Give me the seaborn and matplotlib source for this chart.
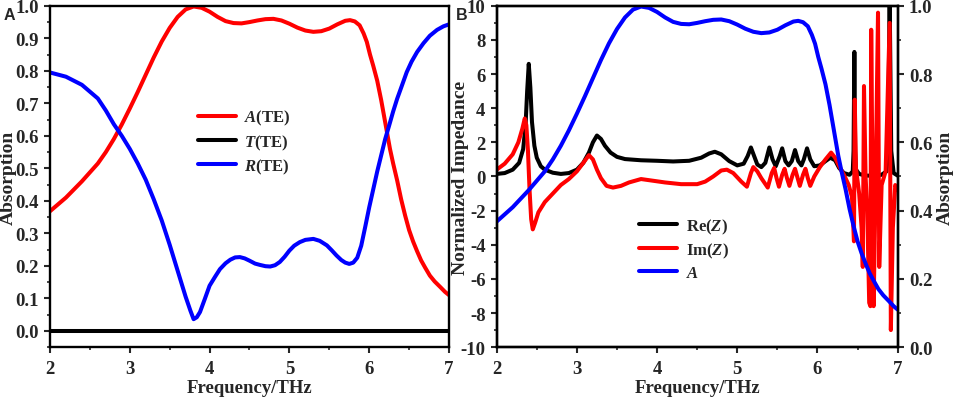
import numpy as np
import pandas as pd
import seaborn as sns
import matplotlib.pyplot as plt
from matplotlib.ticker import MultipleLocator

# panel A data: absorption / transmission / reflection (TE)
freq_a = [2.0, 2.2, 2.4, 2.6, 2.7, 2.8, 2.9, 3.0, 3.1, 3.2, 3.3, 3.4, 3.5, 3.6, 3.7, 3.8, 3.9,
          4.0, 4.1, 4.2, 4.3, 4.4, 4.5, 4.6, 4.7, 4.8, 4.9, 5.0, 5.1, 5.2, 5.3, 5.4, 5.5, 5.6,
          5.7, 5.76, 5.82, 5.88, 5.93, 5.97, 6.01, 6.05, 6.1, 6.15, 6.2, 6.26, 6.3, 6.35, 6.4,
          6.45, 6.5, 6.55, 6.6, 6.65, 6.7, 6.76, 6.82, 6.89, 6.95, 7.0]
a_te = [0.368, 0.41, 0.46, 0.515, 0.55, 0.59, 0.635, 0.684, 0.735, 0.788, 0.841, 0.89, 0.932, 0.966, 0.989, 0.998, 0.994,
        0.982, 0.966, 0.953, 0.947, 0.946, 0.95, 0.955, 0.959, 0.96, 0.955, 0.945, 0.933, 0.924, 0.92, 0.922, 0.93, 0.943,
        0.954, 0.956, 0.952, 0.94, 0.915, 0.889, 0.85, 0.816, 0.77, 0.71, 0.642, 0.56, 0.515, 0.463, 0.405,
        0.355, 0.31, 0.275, 0.245, 0.217, 0.195, 0.17, 0.152, 0.135, 0.12, 0.11]

freq_t = [2.0, 7.0]
t_te = [0.0, 0.0]

freq_r = [2.0, 2.2, 2.4, 2.6, 2.7, 2.8, 2.9, 3.0, 3.1, 3.2, 3.3, 3.4, 3.5, 3.6, 3.7, 3.76, 3.8, 3.84, 3.88,
          3.94, 4.0, 4.07, 4.13, 4.2, 4.26, 4.32, 4.38, 4.44, 4.5, 4.57, 4.63, 4.7, 4.76, 4.82, 4.88,
          4.94, 5.0, 5.06, 5.13, 5.2, 5.3, 5.38, 5.47, 5.53, 5.59, 5.65, 5.7, 5.75, 5.8, 5.85, 5.9,
          5.95, 6.0, 6.05, 6.1, 6.15, 6.2, 6.25, 6.3, 6.35, 6.4, 6.47, 6.53, 6.6, 6.68, 6.76, 6.85, 6.93, 7.0]
r_te = [0.795, 0.782, 0.757, 0.715, 0.678, 0.636, 0.6, 0.56, 0.515, 0.465, 0.405, 0.34, 0.265, 0.185, 0.105, 0.062, 0.036, 0.042, 0.058,
        0.098, 0.139, 0.167, 0.19, 0.208, 0.219, 0.226, 0.227, 0.223, 0.216, 0.207, 0.203, 0.199, 0.198, 0.202, 0.212,
        0.228, 0.247, 0.262, 0.273, 0.28, 0.283, 0.277, 0.263, 0.248, 0.232, 0.218, 0.21, 0.206, 0.21, 0.225, 0.262,
        0.32, 0.38, 0.435, 0.49, 0.54, 0.59, 0.632, 0.675, 0.714, 0.748, 0.796, 0.828, 0.858, 0.885, 0.908, 0.926, 0.937, 0.943]

# panel B data: normalized impedance
freq_re = [2.0, 2.1, 2.2, 2.28, 2.33, 2.36, 2.38, 2.4, 2.42, 2.44, 2.47, 2.5, 2.55, 2.6, 2.7, 2.8, 2.9,
           3.0, 3.08, 3.15, 3.2, 3.25, 3.3, 3.35, 3.42, 3.5, 3.6, 3.8, 4.0, 4.2, 4.4, 4.55, 4.65, 4.72,
           4.8, 4.9, 5.0, 5.08, 5.13, 5.17, 5.21, 5.25, 5.3, 5.35, 5.4, 5.44, 5.48, 5.53, 5.56, 5.6,
           5.64, 5.68, 5.72, 5.76, 5.8, 5.83, 5.87, 5.91, 5.96, 6.03, 6.1, 6.16, 6.22, 6.27, 6.33, 6.4,
           6.44, 6.45, 6.46, 6.47, 6.48, 6.52, 6.6, 6.7, 6.8, 6.86, 6.88, 6.9, 6.92, 6.95, 7.0]
re_z = [0.15, 0.2, 0.4, 0.8, 1.6, 3.0, 5.0, 6.6, 5.2, 3.2, 1.8, 1.1, 0.6, 0.4, 0.22, 0.15, 0.2,
        0.4, 0.8, 1.4, 2.0, 2.4, 2.2, 1.8, 1.4, 1.15, 1.02, 0.95, 0.92, 0.88, 0.92, 1.1, 1.35, 1.45,
        1.3, 0.9, 0.65, 0.75, 1.2, 1.7, 1.2, 0.7, 0.55, 0.8, 1.7, 1.0, 0.6, 1.2, 1.65, 0.9,
        0.65, 0.9, 1.55, 0.9, 0.65, 1.0, 1.65, 1.0, 0.6, 0.65, 0.9, 1.1, 0.95, 0.5, 0.2, 0.1,
        0.3, 1.5, 7.3, 1.5, 0.4, 0.15, 0.05, 0.05, 0.1, 0.3, 1.5, 10.5, 1.5, 0.2, 0.05]

freq_im = [2.0, 2.1, 2.2, 2.27, 2.32, 2.35, 2.37, 2.39, 2.41, 2.43, 2.45, 2.48, 2.52, 2.6, 2.7, 2.8,
           2.9, 3.0, 3.08, 3.15, 3.2, 3.25, 3.3, 3.37, 3.45, 3.55, 3.65, 3.8, 3.95, 4.1, 4.3, 4.5,
           4.6, 4.7, 4.8, 4.87, 4.95, 5.05, 5.12, 5.17, 5.2, 5.25, 5.3, 5.38, 5.43, 5.46, 5.49, 5.52,
           5.56, 5.59, 5.62, 5.65, 5.69, 5.72, 5.75, 5.78, 5.82, 5.85, 5.88, 5.91, 5.96, 6.03, 6.1,
           6.17, 6.22, 6.27, 6.33, 6.39, 6.43, 6.455, 6.465, 6.48, 6.52, 6.55, 6.565, 6.58, 6.6, 6.62,
           6.645, 6.66, 6.67, 6.685, 6.7, 6.72, 6.755, 6.77, 6.8, 6.85, 6.9, 6.915, 6.94, 6.97, 7.0]
im_z = [0.4, 0.75, 1.3, 2.0, 2.8, 3.4, 3.0, 1.5, -0.8, -2.5, -3.1, -2.7, -2.1, -1.5, -1.0, -0.5,
        -0.15, 0.3, 0.8, 1.25, 1.0, 0.4, -0.1, -0.55, -0.65, -0.55, -0.35, -0.15, -0.25, -0.35, -0.45, -0.45,
        -0.3, 0.0, 0.35, 0.4, 0.2, -0.3, -0.6, 0.2, 0.55, 0.3, -0.1, -0.65, 0.2, 0.5, -0.1, -0.6,
        0.1, 0.45, -0.1, -0.55, 0.1, 0.45, -0.05, -0.55, 0.1, 0.45, -0.1, -0.55, 0.0, 0.55, 1.0,
        1.4, 1.1, 0.6, 0.1, -0.5, -1.2, -3.8, 4.5, 0.5, -1.0, -3.0, -5.3, 5.3, 0.0, -2.0,
        -7.4, -7.6, 8.6, 0.5, -7.6, -2.0, 9.6, -5.3, -0.5, 0.3, 9.0, -9.0, -3.0, -0.5, -0.8]

sns.set_style("ticks")
plt.rcParams['font.family'] = ['Liberation Serif', 'DejaVu Serif']
plt.rcParams['font.weight'] = 'bold'
plt.rcParams['axes.labelweight'] = 'bold'
plt.rcParams['axes.unicode_minus'] = False
plt.rcParams['mathtext.fontset'] = 'custom'
plt.rcParams['mathtext.it'] = 'Liberation Serif:italic:bold'
plt.rcParams['mathtext.rm'] = 'Liberation Serif:bold'

fig = plt.figure(figsize=(9.57, 4.02), dpi=100)
ax1 = fig.add_axes([0.0522, 0.134, 0.417, 0.849])
ax2 = fig.add_axes([0.519, 0.134, 0.419, 0.849])
ax3 = ax2.twinx()

lw = 2.9

def style(ax):
    for s in ax.spines.values():
        s.set_linewidth(1.7)
        s.set_color('black')
    ax.tick_params(which='major', direction='out', length=4.5, width=1.5, labelsize=13.5)
    ax.tick_params(axis='x', which='major', pad=5)
    ax.tick_params(axis='y', which='major', pad=3.5)
    ax.tick_params(which='minor', direction='out', length=2.5, width=1.2)
    for lab in ax.get_xticklabels() + ax.get_yticklabels():
        lab.set_fontweight('bold')

# ---- panel A
sns.lineplot(x=freq_a, y=a_te, ax=ax1, color='#ff0000', lw=lw, label=r'$\mathit{A}$(TE)')
sns.lineplot(x=freq_t, y=t_te, ax=ax1, color='black', lw=lw, label=r'$\mathit{T}$(TE)')
sns.lineplot(x=freq_r, y=r_te, ax=ax1, color='#0000ff', lw=lw, label=r'$\mathit{R}$(TE)')
ax1.set_xlim(2, 7)
ax1.set_ylim(-0.05, 1.0)
ax1.set_yticks(np.arange(0, 1.01, 0.1))
ax1.set_yticklabels(['%.1f' % v for v in np.arange(0, 1.01, 0.1)])
ax1.yaxis.set_minor_locator(MultipleLocator(0.05))
ax1.xaxis.set_minor_locator(MultipleLocator(0.5))
ax1.set_xlabel('Frequency/THz', fontsize=13.5, labelpad=1)
ax1.set_ylabel('Absorption', fontsize=14)
ax1.yaxis.set_label_coords(-0.083, 0.5)
style(ax1)
ax1.legend(loc='upper left', bbox_to_anchor=(0.37, 0.70), frameon=False, fontsize=12,
           handlelength=2.3, handletextpad=0.5, labelspacing=0.3, borderpad=0, borderaxespad=0)

# ---- panel B
sns.lineplot(x=freq_re, y=re_z, ax=ax2, color='black', lw=lw, label=r'Re($\mathit{Z}$)', legend=False)
sns.lineplot(x=freq_im, y=im_z, ax=ax2, color='#ff0000', lw=lw, label=r'Im($\mathit{Z}$)', legend=False)
sns.lineplot(x=freq_a, y=a_te, ax=ax3, color='#0000ff', lw=lw, label=r'$\mathit{A}$', legend=False)
ax2.set_xlim(2, 7)
ax2.set_ylim(-10, 10)
ax2.set_yticks(range(-10, 11, 2))
ax2.yaxis.set_minor_locator(MultipleLocator(1))
ax2.xaxis.set_minor_locator(MultipleLocator(0.5))
ax3.set_ylim(0, 1.0)
ax3.set_yticks(np.arange(0, 1.01, 0.2))
ax3.set_yticklabels(['%.1f' % v for v in np.arange(0, 1.01, 0.2)])
ax3.yaxis.set_minor_locator(MultipleLocator(0.1))
ax2.set_xlabel('Frequency/THz', fontsize=13.5, labelpad=1)
ax2.set_ylabel('Normalized Impedance', fontsize=14)
ax2.yaxis.set_label_coords(-0.068, 0.5)
ax3.set_ylabel('Absorption', fontsize=14)
ax3.yaxis.set_label_coords(1.097, 0.5)
style(ax2)
style(ax3)
h2, l2 = ax2.get_legend_handles_labels()
h3, l3 = ax3.get_legend_handles_labels()
ax3.legend(h2 + h3, l2 + l3, loc='upper left', bbox_to_anchor=(0.355, 0.383), frameon=False,
           fontsize=12, handlelength=2.3, handletextpad=0.5, labelspacing=0.3,
           borderpad=0, borderaxespad=0)

fig.text(0.004, 0.98, 'A', family='Liberation Sans', fontweight='bold', fontsize=11.5, va='top')
fig.text(0.476, 0.98, 'B', family='Liberation Sans', fontweight='bold', fontsize=11.5, va='top')

fig.savefig('out.png', dpi=100)
